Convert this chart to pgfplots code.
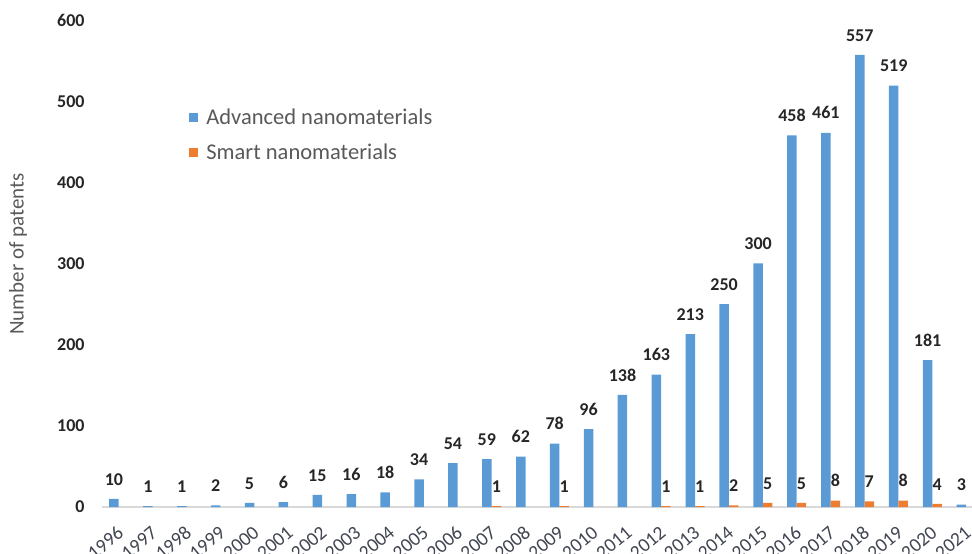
\documentclass[border=0pt]{standalone}
\usepackage{pgfplots}
\pgfplotsset{compat=1.18}
\usepackage{fontspec}
\setmainfont{Carlito}
\definecolor{cblue}{HTML}{5B9BD5}
\definecolor{corange}{HTML}{ED7D31}
\definecolor{labtext}{HTML}{262626}
\definecolor{ticktext}{HTML}{404550}
\definecolor{graytext}{HTML}{595959}
\definecolor{axisgray}{HTML}{D9D9D9}
\begin{document}
\begin{tikzpicture}[x=1pt,y=1pt]
\useasboundingbox (-101.75,-47) rectangle (870.25,507);
\begin{axis}[
  at={(0,0)}, anchor=south west,
  scale only axis, width=870.25pt, height=487pt,
  /pgf/number format/assume math mode=true,
  ybar=0pt, bar width=9.5pt,
  xmin=-0.5, xmax=25.17, ymin=0, ymax=600,
  axis y line=none,
  axis x line*=bottom,
  x axis line style={draw=axisgray, line width=1.3pt, -},
  xtick={0,...,25},
  xticklabels={1996,1997,1998,1999,2000,2001,2002,2003,2004,2005,2006,2007,2008,2009,2010,2011,2012,2013,2014,2015,2016,2017,2018,2019,2020,2021},
  major tick length=0pt,
  xticklabel style={xshift=2pt, yshift=-23pt, rotate=40, anchor=east, inner sep=0pt, font=\fontsize{19.5}{21}\selectfont, text=ticktext},
  clip=false,
  nodes near coords,
  nodes near coords style={anchor=south, inner sep=0pt, yshift=13.5pt, font=\bfseries\fontsize{18}{20}\selectfont, text=labtext},
  legend style={at={(0.097,0.764)}, anchor=west, draw=none, fill=none, font=\fontsize{22.5}{24}\selectfont, text=graytext, row sep=14pt, legend cell align=left},
  legend image code/.code={\fill[#1,draw=none] (0pt,-4.5pt) rectangle (9pt,4.5pt); \path (15pt,0pt);},
]
\addplot[fill=cblue, draw=none] coordinates {
(0,10) (1,1) (2,1) (3,2) (4,5) (5,6) (6,15) (7,16) (8,18) (9,34) (10,54) (11,59) (12,62) (13,78) (14,96) (15,138) (16,163) (17,213) (18,250) (19,300) (20,458) (21,461) (22,557) (23,519) (24,181) (25,3)};
\addplot[fill=corange, draw=none] coordinates {
(11,1) (13,1) (16,1) (17,1) (18,2) (19,5) (20,5) (21,8) (22,7) (23,8) (24,4)};
\legend{Advanced nanomaterials, Smart nanomaterials}
\end{axis}
\begin{axis}[
  at={(0,0)}, anchor=south west,
  scale only axis, width=870.25pt, height=487pt,
  /pgf/number format/assume math mode=true,
  xmin=0, xmax=1, ymin=0, ymax=600,
  axis x line=none, axis y line*=left,
  y axis line style={draw=none},
  ytick={0,100,...,600}, major tick length=0pt,
  yticklabel style={anchor=east, inner sep=0pt, xshift=-17pt, font=\bfseries\fontsize{18}{20}\selectfont, text=labtext},
]
\addplot[draw=none] coordinates {(0,0)};
\end{axis}
\node[rotate=90, text=graytext, font=\fontsize{21}{23}\selectfont] at (-83.75,253) {Number of patents};
\end{tikzpicture}
\end{document}
